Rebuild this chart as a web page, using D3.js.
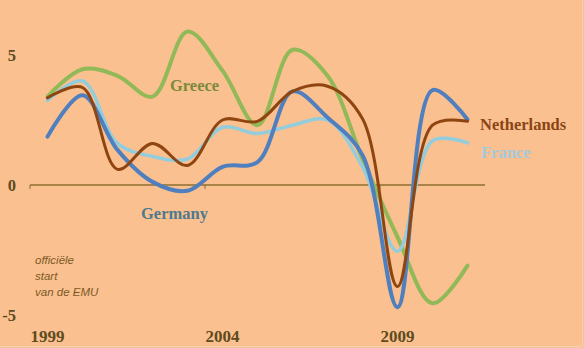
<!DOCTYPE html>
<html>
<head>
<meta charset="utf-8">
<script src="https://cdn.jsdelivr.net/npm/d3@7"></script>
<style>
  html, body { margin: 0; padding: 0; background: #FAC090; }
  svg { display: block; }
</style>
</head>
<body>
<svg id="chart" width="584" height="348"></svg>
<script>
// ---- data ----
const years = ["1999","2000","2001","2002","2003","2004","2005","2006","2007","2008","2009","2010","2011"];
const greece      = [3.4, 4.45, 4.2, 3.4, 5.9, 4.4, 2.3, 5.2, 4.2, 1.0, -2.0, -4.55, -3.1];
const netherlands = [3.35, 3.75, 0.6, 1.6, 0.75, 2.5, 2.45, 3.6, 3.8, 2.55, -3.9, 2.3, 2.45];
const france      = [3.25, 4.0, 1.6, 1.1, 1.0, 2.22, 1.98, 2.3, 2.5, 0.7, -2.55, 1.7, 1.62];
const germany     = [1.86, 3.45, 1.35, 0.12, -0.22, 0.7, 0.88, 3.6, 2.6, 1.15, -4.7, 3.65, 2.52];
const yTicks = [5, 0, -5];
const xTickLabels = ["1999", "2004", "2009"];
const seriesNames = ["Greece", "France", "Germany", "Netherlands"];
const noteLines = ["officiële", "start", "van de EMU"];

// ---- styles ----
const colors = { Greece: "#92B957", France: "#93CDDD", Germany: "#4F7FBE", Netherlands: "#8E4510" };
const widths = { Greece: 4, France: 3.5, Germany: 4, Netherlands: 3 };
const labelColors = { Greece: "#7A8B3C", France: "#A3C9DC", Germany: "#4E7A8C", Netherlands: "#8B4515" };
const values = { Greece: greece, France: france, Germany: germany, Netherlands: netherlands };

const svg = d3.select("#chart");
svg.append("rect").attr("width", 584).attr("height", 348).attr("fill", "#FAC090");

const x = d3.scaleBand().domain(years).range([30, 485]).padding(0);
const y = d3.scaleLinear().domain([-5, 5]).range([315, 55]);
const xc = d => x(d) + x.bandwidth() / 2;

// axis line at zero
const axisColor = "#8C6E2E";
svg.append("line")
  .attr("x1", x.range()[0]).attr("x2", x.range()[1])
  .attr("y1", y(0)).attr("y2", y(0))
  .attr("stroke", axisColor).attr("stroke-width", 1.5);
svg.selectAll("line.tick").data(xTickLabels).enter().append("line")
  .attr("class", "tick")
  .attr("x1", d => x(d)).attr("x2", d => x(d))
  .attr("y1", y(0)).attr("y2", y(0) + 4)
  .attr("stroke", axisColor).attr("stroke-width", 1);

const serif = "'Liberation Serif', 'DejaVu Serif', serif";
const textDark = "#5E4B1E";

// y tick labels
svg.selectAll("text.ytick").data(yTicks).enter().append("text")
  .attr("class", "ytick")
  .attr("x", 16).attr("y", d => y(d) + 6)
  .attr("text-anchor", "end")
  .attr("font-family", serif).attr("font-weight", "bold").attr("font-size", 16.5)
  .attr("fill", textDark)
  .text(d => d);

// x labels
svg.selectAll("text.xtick").data(xTickLabels).enter().append("text")
  .attr("class", "xtick")
  .attr("x", d => xc(d)).attr("y", 342)
  .attr("text-anchor", "middle")
  .attr("font-family", serif).attr("font-weight", "bold").attr("font-size", 17)
  .attr("fill", textDark)
  .text(d => d);

// lines
const line = d3.line()
  .x((d, i) => xc(years[i]))
  .y(d => y(d))
  .curve(d3.curveCatmullRom.alpha(0.5));

seriesNames.forEach(name => {
  svg.append("path")
    .datum(values[name])
    .attr("d", line)
    .attr("fill", "none")
    .attr("stroke", colors[name])
    .attr("stroke-width", widths[name])
    .attr("stroke-linejoin", "round")
    .attr("stroke-linecap", "round");
});

// series labels
const labelPos = {
  Greece: [170, 91, "start"],
  Germany: [141, 219, "start"],
  Netherlands: [480, 130, "start"],
  France: [481, 158, "start"]
};
Object.keys(labelPos).forEach(name => {
  const p = labelPos[name];
  svg.append("text")
    .attr("x", p[0]).attr("y", p[1])
    .attr("text-anchor", p[2])
    .attr("font-family", serif).attr("font-weight", "bold").attr("font-size", 16.5)
    .attr("fill", labelColors[name])
    .text(name);
});

// note
svg.selectAll("text.note").data(noteLines).enter().append("text")
  .attr("class", "note")
  .attr("x", 35).attr("y", (d, i) => 264 + i * 16)
  .attr("font-family", "'Liberation Sans', Arial, sans-serif")
  .attr("font-style", "italic").attr("font-size", 11.5)
  .attr("fill", "#7A5A24")
  .text(d => d);

// faint frame edges
svg.append("line").attr("x1", 0).attr("x2", 583).attr("y1", 346.5).attr("y2", 346.5)
  .attr("stroke", "#EFD2B6").attr("stroke-width", 1);
svg.append("line").attr("x1", 582.5).attr("x2", 582.5).attr("y1", 0).attr("y2", 347)
  .attr("stroke", "#EFD2B6").attr("stroke-width", 1);
</script>
</body>
</html>
